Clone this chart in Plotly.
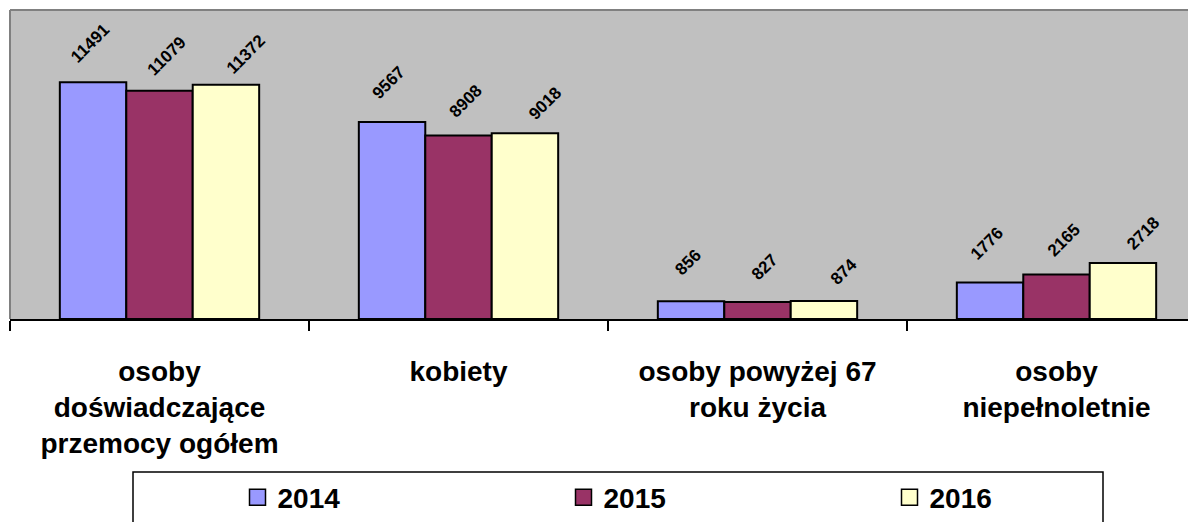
import plotly.graph_objects as go

categories = [
    "osoby<br>doświadczające<br>przemocy ogółem",
    "kobiety",
    "osoby powyżej 67<br>roku życia",
    "osoby<br>niepełnoletnie",
]
years = ["2014", "2015", "2016"]
values_2014 = [11491, 9567, 856, 1776]
values_2015 = [11079, 8908, 827, 2165]
values_2016 = [11372, 9018, 874, 2718]
colors = ["#9999FF", "#993366", "#FFFFCC"]

series = [values_2014, values_2015, values_2016]
FONT = "Liberation Sans, Arial, sans-serif"
W, H = 1196, 522
OFF = 8  # page body margin
ML, MR, MT, MB = 10 - OFF, 0, 10 - OFF, H - (319 - OFF)
plot_w = W - ML - MR
plot_h = H - MT - MB
cat_px = 299.0
bargap = 1 / 3
nser = len(series)
bw = (1 - bargap) / nser

fig = go.Figure()
for yr, vals, col in zip(years, series, colors):
    fig.add_trace(go.Bar(
        x=categories, y=vals, name=yr,
        marker=dict(color=col, line=dict(color="black", width=2)),
        showlegend=False,
    ))
for yr, col in zip(years, colors):
    fig.add_trace(go.Scatter(
        x=[None], y=[None], mode="markers", name=yr,
        marker=dict(symbol="square", size=16, color=col,
                    line=dict(color="black", width=1.5)),
    ))

# data labels
dxs = [-3, 7, 20]
dys = [39, 34, 30]
annotations = []
for k, vals in enumerate(series):
    for i, v in enumerate(vals):
        annotations.append(dict(
            x=i + (k - (nser - 1) / 2) * bw, y=v, xref="x", yref="y",
            text=f"<b>{v}</b>", showarrow=False, textangle=-45,
            xanchor="center", yanchor="middle",
            xshift=dxs[k], yshift=dys[k],
            font=dict(family=FONT, size=17, color="black"),
        ))

def px2x(p):
    return (p - OFF - ML) / plot_w

def px2y(p):
    return (H - MB - (p - OFF)) / plot_h

shapes = [
    dict(type="line", xref="paper", yref="paper", x0=0, x1=1, y0=1, y1=1,
         line=dict(color="#808080", width=2)),
    dict(type="line", xref="paper", yref="paper", x0=0, x1=0, y0=0, y1=1,
         line=dict(color="#808080", width=2)),
    dict(type="rect", xref="paper", yref="paper",
         x0=px2x(133), x1=px2x(1103), y0=px2y(472), y1=px2y(560),
         line=dict(color="black", width=1.5), fillcolor="rgba(0,0,0,0)"),
]

fig.update_layout(
    width=W, height=H,
    margin=dict(l=ML, r=MR, t=MT, b=MB, pad=0, autoexpand=False),
    paper_bgcolor="white", plot_bgcolor="#C0C0C0",
    barmode="group", bargap=bargap, bargroupgap=0,
    font=dict(family=FONT, color="black"),
    annotations=annotations, shapes=shapes,
    legend=dict(
        orientation="h",
        xref="container", yref="container",
        x=229.5 / W, xanchor="left",
        y=(H - 489.5) / H, yanchor="middle",
        entrywidth=281, entrywidthmode="pixels",
        bgcolor="rgba(0,0,0,0)", borderwidth=0,
        font=dict(family=FONT, size=28, color="black", weight="bold"),
        itemsizing="trace",
    ),
    xaxis=dict(
        type="category", range=[-0.5, -0.5 + plot_w / cat_px],
        automargin=False,
        tickson="boundaries", ticks="outside", ticklen=10, tickwidth=2,
        tickcolor="black", showline=True, linecolor="black", linewidth=2,
        showgrid=False, ticklabelstandoff=26,
        tickfont=dict(family=FONT, size=28, color="black", weight="bold"),
    ),
    yaxis=dict(range=[0, 15000], visible=False, showgrid=False, zeroline=False,
               automargin=False),
)

fig.write_html("out.html")
